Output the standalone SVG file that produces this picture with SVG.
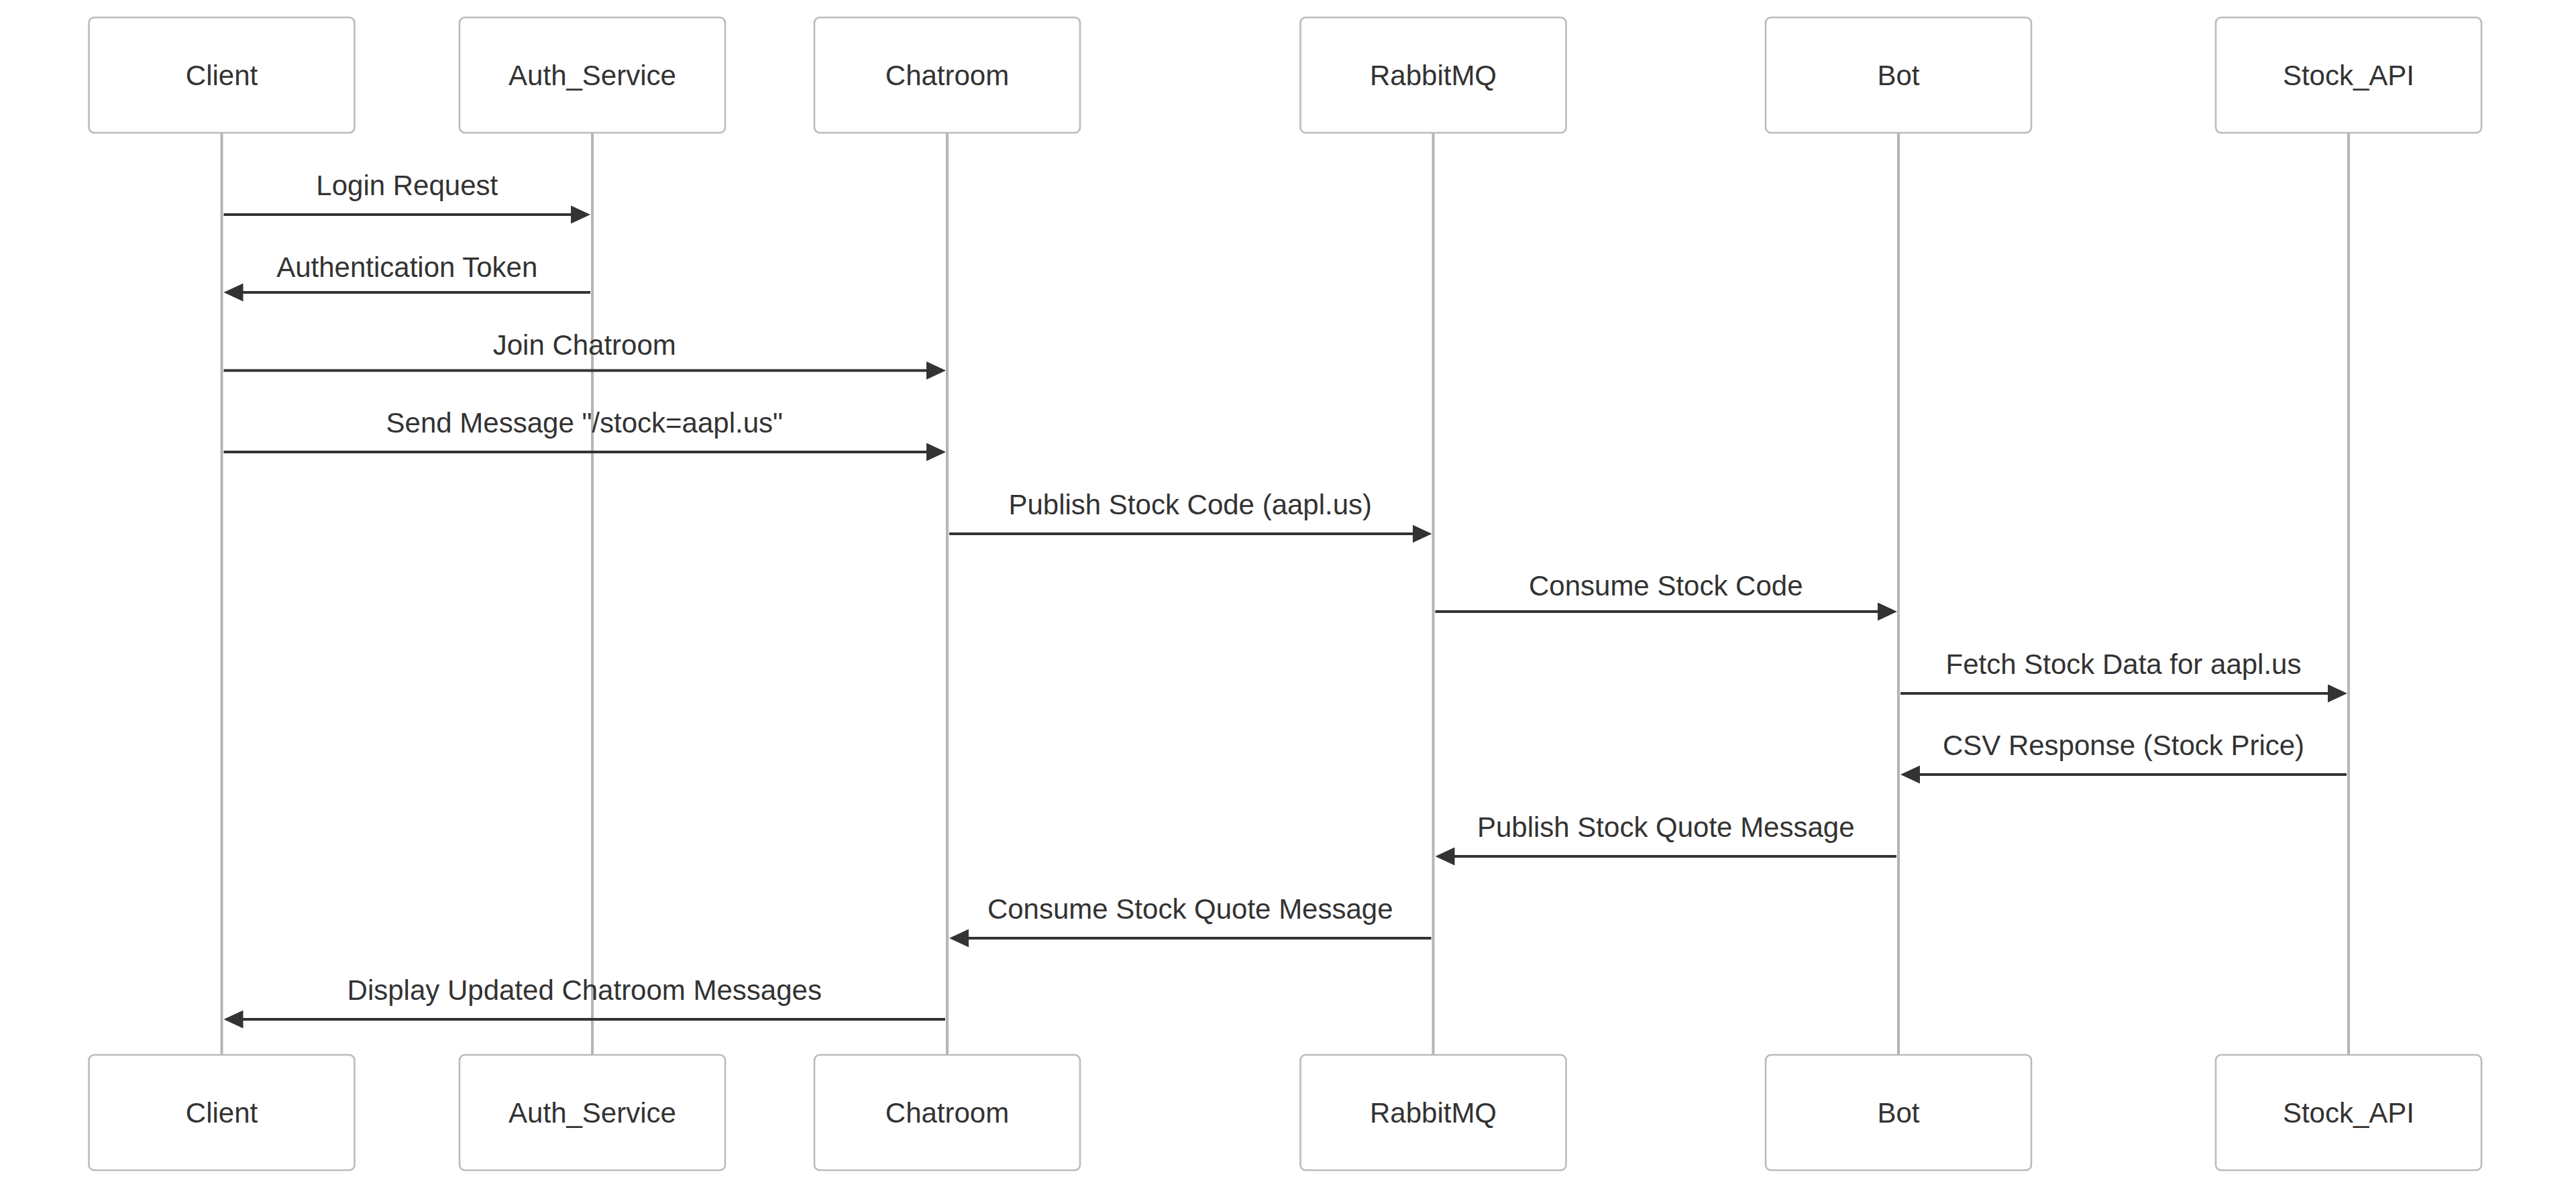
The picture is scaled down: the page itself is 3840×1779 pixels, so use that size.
<svg xmlns="http://www.w3.org/2000/svg" width="3840" height="1779" viewBox="0 0 3840 1779">
<style>
.actor{fill:#ffffff;stroke:#bbbbbb;stroke-width:2.6}
.atext{font-family:"Liberation Sans",Arial,sans-serif;font-size:42px;fill:#333333;text-anchor:middle;dominant-baseline:central}
.life{stroke:#b5b5b5;stroke-width:4}
.msg{stroke:#333333;stroke-width:4;fill:none;marker-end:url(#arrow)}
.mtext{font-family:"Liberation Sans",Arial,sans-serif;font-size:42px;fill:#333333;text-anchor:middle}
</style>
<defs>
<marker id="arrow" markerUnits="userSpaceOnUse" markerWidth="29" markerHeight="27" refX="24" refY="13.5" orient="auto">
<path d="M0,0 L29,13.5 L0,27 z" fill="#333333"/>
</marker>
</defs>
<rect width="3840" height="1779" fill="#ffffff"/>
<g id="lifelines">
<line class="life" x1="330.5" y1="198" x2="330.5" y2="1573"/>
<line class="life" x1="883" y1="198" x2="883" y2="1573"/>
<line class="life" x1="1412" y1="198" x2="1412" y2="1573"/>
<line class="life" x1="2136.5" y1="198" x2="2136.5" y2="1573"/>
<line class="life" x1="2830" y1="198" x2="2830" y2="1573"/>
<line class="life" x1="3501" y1="198" x2="3501" y2="1573"/>
</g>
<g id="actor-client"><rect class="actor" x="132.5" y="26" width="396" height="172" rx="8"/><text class="atext" x="330.5" y="112">Client</text></g>
<g id="actor-auth"><rect class="actor" x="685" y="26" width="396" height="172" rx="8"/><text class="atext" x="883" y="112">Auth_Service</text></g>
<g id="actor-chatroom"><rect class="actor" x="1214" y="26" width="396" height="172" rx="8"/><text class="atext" x="1412" y="112">Chatroom</text></g>
<g id="actor-rabbitmq"><rect class="actor" x="1938.5" y="26" width="396" height="172" rx="8"/><text class="atext" x="2136.5" y="112">RabbitMQ</text></g>
<g id="actor-bot"><rect class="actor" x="2632" y="26" width="396" height="172" rx="8"/><text class="atext" x="2830" y="112">Bot</text></g>
<g id="actor-stockapi"><rect class="actor" x="3303" y="26" width="396" height="172" rx="8"/><text class="atext" x="3501" y="112">Stock_API</text></g>
<g id="actor-client-bottom"><rect class="actor" x="132.5" y="1573" width="396" height="172" rx="8"/><text class="atext" x="330.5" y="1659">Client</text></g>
<g id="actor-auth-bottom"><rect class="actor" x="685" y="1573" width="396" height="172" rx="8"/><text class="atext" x="883" y="1659">Auth_Service</text></g>
<g id="actor-chatroom-bottom"><rect class="actor" x="1214" y="1573" width="396" height="172" rx="8"/><text class="atext" x="1412" y="1659">Chatroom</text></g>
<g id="actor-rabbitmq-bottom"><rect class="actor" x="1938.5" y="1573" width="396" height="172" rx="8"/><text class="atext" x="2136.5" y="1659">RabbitMQ</text></g>
<g id="actor-bot-bottom"><rect class="actor" x="2632" y="1573" width="396" height="172" rx="8"/><text class="atext" x="2830" y="1659">Bot</text></g>
<g id="actor-stockapi-bottom"><rect class="actor" x="3303" y="1573" width="396" height="172" rx="8"/><text class="atext" x="3501" y="1659">Stock_API</text></g>
<g id="connectors">
<line class="msg" x1="333.5" y1="320" x2="875" y2="320"/>
<text class="mtext" x="606.75" y="291">Login Request</text>
<line class="msg" x1="880" y1="436" x2="338.5" y2="436"/>
<text class="mtext" x="606.75" y="412.5">Authentication Token</text>
<line class="msg" x1="333.5" y1="552.5" x2="1405" y2="552.5"/>
<text class="mtext" x="871.25" y="529">Join Chatroom</text>
<line class="msg" x1="333.5" y1="674" x2="1405" y2="674"/>
<text class="mtext" x="871.25" y="645">Send Message "/stock=aapl.us"</text>
<line class="msg" x1="1415" y1="796" x2="2129.5" y2="796"/>
<text class="mtext" x="1774.25" y="767">Publish Stock Code (aapl.us)</text>
<line class="msg" x1="2139.5" y1="912" x2="2823" y2="912"/>
<text class="mtext" x="2483.25" y="888">Consume Stock Code</text>
<line class="msg" x1="2833" y1="1034" x2="3494" y2="1034"/>
<text class="mtext" x="3165.5" y="1005">Fetch Stock Data for aapl.us</text>
<line class="msg" x1="3498" y1="1155" x2="2838" y2="1155"/>
<text class="mtext" x="3165.5" y="1126">CSV Response (Stock Price)</text>
<line class="msg" x1="2827" y1="1277" x2="2144.5" y2="1277"/>
<text class="mtext" x="2483.25" y="1248">Publish Stock Quote Message</text>
<line class="msg" x1="2133.5" y1="1399" x2="1420" y2="1399"/>
<text class="mtext" x="1774.25" y="1370">Consume Stock Quote Message</text>
<line class="msg" x1="1409" y1="1520" x2="338.5" y2="1520"/>
<text class="mtext" x="871.25" y="1491">Display Updated Chatroom Messages</text>
</g>
</svg>
